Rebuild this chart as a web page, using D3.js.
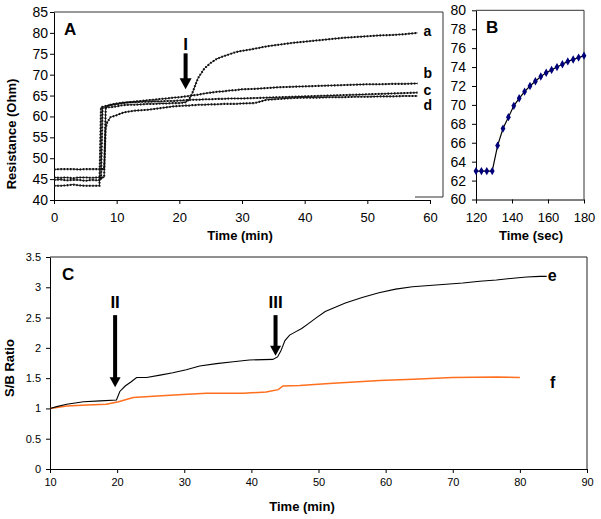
<!DOCTYPE html>
<html><head><meta charset="utf-8">
<script src="https://cdn.jsdelivr.net/npm/d3@7"></script>
<style>body{margin:0;background:#fff}svg{display:block}</style>
</head><body><svg id="chart" width="601" height="519"></svg>
<script>
// ---------- Panel A data (Resistance, Ohm vs time, min) ----------
const timeA = [0,1,2,3,4,5,6,7,7.25,7.5,7.75,8,8.25,8.5,9,10,11,12,13,14,15,16,17,18,19,20,21,21.5,22,22.5,23,24,25,26,27,28,29,30,32,34,36,38,40,42,44,46,48,50,52,54,56,58];
const resA = [44.8,44.9,44.7,44.8,44.8,44.6,44.8,44.7,44.8,44.8,62.0,62.1,62.1,62.2,62.2,62.4,62.7,62.8,62.8,62.9,63.0,63.0,63.1,63.1,63.2,63.2,63.4,64.0,65.3,67.3,69.2,71.5,72.8,73.8,74.4,74.9,75.4,75.7,76.2,76.8,77.2,77.6,77.9,78.2,78.5,78.8,79.0,79.2,79.4,79.5,79.7,80.0];
const resB = [43.4,43.4,43.5,43.7,43.5,43.4,43.4,43.4,43.4,62.2,62.3,62.4,62.5,62.6,62.7,62.9,63.2,63.4,63.6,63.7,63.9,64.0,64.2,64.3,64.5,64.6,64.8,64.9,65.0,65.1,65.2,65.5,65.7,65.9,66.0,66.2,66.3,66.5,66.6,66.8,67.0,67.1,67.2,67.3,67.4,67.5,67.6,67.7,67.7,67.8,67.8,67.9];
const resC = [45.4,45.3,45.4,45.2,45.4,45.4,45.3,45.4,45.4,45.4,45.4,45.4,62.0,62.5,62.8,63.1,63.3,63.4,63.4,63.5,63.5,63.6,63.6,63.7,63.7,63.8,63.9,63.9,64.0,64.0,64.0,64.1,64.1,64.2,64.2,64.3,64.3,64.3,64.4,64.5,64.6,64.7,64.8,64.9,65.0,65.1,65.2,65.3,65.4,65.5,65.6,65.7];
const resD = [47.3,47.4,47.4,47.4,47.3,47.4,47.4,47.4,47.4,47.4,47.4,47.4,57.2,58.6,59.8,60.3,60.9,61.2,61.4,61.5,61.6,61.8,62.0,62.2,62.4,62.5,62.6,62.6,62.7,62.7,62.8,62.8,62.9,62.9,63.0,63.0,63.0,63.1,63.2,64.0,64.2,64.4,64.5,64.5,64.6,64.6,64.7,64.7,64.8,64.8,64.9,64.9];
const seriesNamesA = ["a","b","c","d"];
const ticksAy = [40,45,50,55,60,65,70,75,80,85];
const ticksAx = [0,10,20,30,40,50,60];

// ---------- Panel B data (Resistance vs time, sec) ----------
const timeB = [120,123,126,129,132,135,138,141,144,147,150,153,156,159,162,165,168,171,174,177,180];
const resBsec = [63,63,63,63,65.7,67.5,68.7,69.9,70.7,71.4,72.0,72.5,73.0,73.4,73.7,74.0,74.3,74.6,74.8,75.0,75.2];
const ticksBy = [60,62,64,66,68,70,72,74,76,78,80];
const ticksBx = [120,140,160,180];

// ---------- Panel C data (S/B ratio vs time, min) ----------
const timeE = [10,11,12.5,15,17.5,19.9,20.4,21.2,22.1,22.9,24.4,26.4,28.3,30.3,32.3,34.8,37.3,39.7,43.2,43.9,44.4,45,45.7,46.5,47.5,48.5,49.6,51,52.5,54,56.5,59,61.5,64,66.5,69,71.5,74,76.5,79,81,83,84];
const ratioE = [1.0,1.03,1.07,1.11,1.125,1.14,1.28,1.37,1.44,1.51,1.51,1.55,1.59,1.64,1.70,1.74,1.77,1.80,1.81,1.85,1.95,2.12,2.21,2.26,2.32,2.40,2.49,2.60,2.67,2.74,2.83,2.91,2.97,3.01,3.03,3.05,3.07,3.10,3.12,3.15,3.17,3.18,3.18];
const timeF = [10,12.5,15.5,18.4,20.2,22.4,25.4,29.8,33.3,38.8,42.2,44,44.7,47.2,51.6,59.1,64.1,70,76.5,80];
const ratioF = [1.0,1.04,1.056,1.07,1.11,1.18,1.20,1.23,1.25,1.25,1.27,1.31,1.37,1.38,1.41,1.46,1.48,1.51,1.52,1.51];
const ticksCy = [0,0.5,1,1.5,2,2.5,3,3.5];
const ticksCx = [10,20,30,40,50,60,70,80,90];

// annotations (data units)
const arrowsA = [{label:"I", t:21, tip:66.5, top:75.1, text:75.9}];
const arrowsC = [{label:"II", t:19.7, tip:1.35, top:2.54, text:2.65},
                 {label:"III", t:43.6, tip:1.87, top:2.54, text:2.65}];

const FONT = "'Liberation Sans', Arial, Helvetica, sans-serif";
const svg = d3.select("#chart");

function styleAxis(g, size){
  g.attr("font-family", FONT).attr("font-size", size);
  g.selectAll("path.domain").attr("stroke","#000");
  g.selectAll(".tick line").attr("stroke","#000");
  g.selectAll("text").attr("fill","#000");
}
function arrow(x, yTop, yTip, shaftW, headW, headH){
  const g = svg.append("g");
  g.append("rect").attr("x", x - shaftW/2).attr("y", yTop).attr("width", shaftW).attr("height", yTip - headH - yTop + 1).attr("fill","#000");
  g.append("path").attr("d", `M${x-headW/2},${yTip-headH}L${x+headW/2},${yTip-headH}L${x},${yTip}Z`).attr("fill","#000");
}

// ================= Panel A =================
const xA = d3.scaleLinear().domain([0,60]).range([54,430]);
const yA = d3.scaleLinear().domain([40,85]).range([200,12]);
svg.append("path").attr("d", `M${xA(0)},${yA(85)}H443V197H415`).attr("fill","none").attr("stroke","#333").attr("stroke-width",1);
styleAxis(svg.append("g").attr("transform",`translate(${xA(0)},0)`)
  .call(d3.axisLeft(yA).tickValues(ticksAy).tickSize(4).tickSizeOuter(0).tickPadding(2)), 14);
styleAxis(svg.append("g").attr("transform",`translate(0,${yA(40)})`)
  .call(d3.axisBottom(xA).tickValues(ticksAx).tickSize(4).tickSizeOuter(0).tickPadding(9)), 13);

const lineA = d3.line().x((d,i)=>xA(timeA[i])).y(d=>yA(d));
[resA,resB,resC,resD].forEach(s=>{
  svg.append("path").attr("d", lineA(s)).attr("fill","none").attr("stroke","#000").attr("stroke-width",0.9);
  svg.append("path").attr("d", lineA(s)).attr("fill","none").attr("stroke","#111").attr("stroke-width",2.1).attr("stroke-dasharray","1.5,1.7");
});
const lastA = [resA,resB,resC,resD].map(s=>s[s.length-1]);
const labelOffsetA = [3, -5.4, 1.9, 14.5];
seriesNamesA.forEach((n,i)=>{
  svg.append("text").attr("x", xA(timeA[timeA.length-1]) + 6).attr("y", yA(lastA[i]) + labelOffsetA[i])
    .attr("font-family",FONT).attr("font-weight","bold").attr("font-size",14).text(n);
});
svg.append("text").attr("x",64).attr("y",35).attr("font-family",FONT).attr("font-weight","bold").attr("font-size",17).text("A");
svg.append("text").attr("transform","translate(16,134) rotate(-90)").attr("text-anchor","middle")
  .attr("font-family",FONT).attr("font-weight","bold").attr("font-size",13).text("Resistance (Ohm)");
svg.append("text").attr("x",240).attr("y",240).attr("text-anchor","middle")
  .attr("font-family",FONT).attr("font-weight","bold").attr("font-size",13).text("Time (min)");
arrowsA.forEach(a=>{
  arrow(xA(a.t), yA(a.top), yA(a.tip), 4, 12, 11);
  svg.append("text").attr("x", xA(a.t)).attr("y", yA(a.text)).attr("text-anchor","middle")
    .attr("font-family",FONT).attr("font-weight","bold").attr("font-size",17).text(a.label);
});

// ================= Panel B =================
const xB = d3.scaleLinear().domain([120,180]).range([476,584]);
const yB = d3.scaleLinear().domain([60,80]).range([199.5,10.3]);
svg.append("path").attr("d", `M${xB(120)},${yB(80)}H${xB(180)}V${yB(60)}`).attr("fill","none").attr("stroke","#333");
styleAxis(svg.append("g").attr("transform",`translate(${xB(120)},0)`)
  .call(d3.axisLeft(yB).tickValues(ticksBy).tickSize(4).tickSizeOuter(0).tickPadding(6)), 14);
styleAxis(svg.append("g").attr("transform",`translate(0,${yB(60)})`)
  .call(d3.axisBottom(xB).tickValues(ticksBx).tickSize(4).tickSizeOuter(0).tickPadding(9)), 13);
const lineB = d3.line().x((d,i)=>xB(timeB[i])).y(d=>yB(d));
svg.append("path").attr("d", lineB(resBsec)).attr("fill","none").attr("stroke","#000").attr("stroke-width",1.2);
svg.selectAll(".mkB").data(resBsec).enter().append("path").attr("class","mkB")
  .attr("transform",(d,i)=>`translate(${xB(timeB[i])},${yB(d)})`)
  .attr("d", d3.symbol().type(d3.symbolDiamond).size(20)).attr("fill","#00007a");
svg.append("text").attr("x",486).attr("y",33).attr("font-family",FONT).attr("font-weight","bold").attr("font-size",17).text("B");
svg.append("text").attr("x",531).attr("y",240).attr("text-anchor","middle")
  .attr("font-family",FONT).attr("font-weight","bold").attr("font-size",13).text("Time (sec)");

// ================= Panel C =================
const xC = d3.scaleLinear().domain([10,90]).range([50,587]);
const yC = d3.scaleLinear().domain([0,3.5]).range([469,257]);
svg.append("path").attr("d", `M${xC(10)},${yC(3.5)}H${xC(90)}V${yC(0)}`).attr("fill","none").attr("stroke","#222");
styleAxis(svg.append("g").attr("transform",`translate(${xC(10)},0)`)
  .call(d3.axisLeft(yC).tickValues(ticksCy).tickFormat(d3.format("")).tickSize(4).tickSizeOuter(0).tickPadding(5)), 11);
styleAxis(svg.append("g").attr("transform",`translate(0,${yC(0)})`)
  .call(d3.axisBottom(xC).tickValues(ticksCx).tickSize(4).tickSizeOuter(0).tickPadding(5)), 11);
svg.append("path").attr("d", d3.line().x((d,i)=>xC(timeF[i])).y(d=>yC(d))(ratioF))
  .attr("fill","none").attr("stroke","#ff6f1e").attr("stroke-width",1.5);
svg.append("path").attr("d", d3.line().x((d,i)=>xC(timeE[i])).y(d=>yC(d))(ratioE))
  .attr("fill","none").attr("stroke","#000").attr("stroke-width",1.1);
svg.append("text").attr("x", xC(timeE[timeE.length-1]) + 1).attr("y", yC(ratioE[ratioE.length-1]) + 5)
  .attr("font-family",FONT).attr("font-weight","bold").attr("font-size",16).text("e");
svg.append("text").attr("x", xC(timeF[timeF.length-1]) + 30).attr("y", yC(ratioF[ratioF.length-1]) + 10)
  .attr("font-family",FONT).attr("font-weight","bold").attr("font-size",16).text("f");
svg.append("text").attr("x",62).attr("y",280).attr("font-family",FONT).attr("font-weight","bold").attr("font-size",17).text("C");
svg.append("text").attr("transform","translate(14,368) rotate(-90)").attr("text-anchor","middle")
  .attr("font-family",FONT).attr("font-weight","bold").attr("font-size",13).text("S/B Ratio");
svg.append("text").attr("x",302).attr("y",511).attr("text-anchor","middle")
  .attr("font-family",FONT).attr("font-weight","bold").attr("font-size",13).text("Time (min)");
arrowsC.forEach(a=>{
  arrow(xC(a.t), yC(a.top), yC(a.tip), 4, 11, 10);
  svg.append("text").attr("x", xC(a.t)).attr("y", yC(a.text)).attr("text-anchor","middle")
    .attr("font-family",FONT).attr("font-weight","bold").attr("font-size",17).text(a.label);
});
</script></body></html>
